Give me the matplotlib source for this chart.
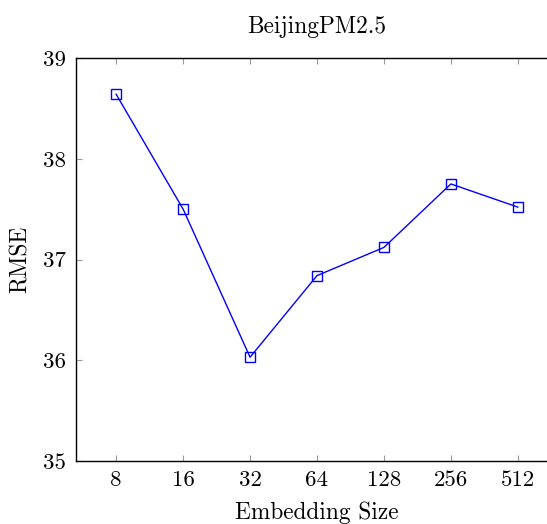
import matplotlib
matplotlib.use("Agg")
import matplotlib.pyplot as plt

plt.rcParams['font.family'] = ['cmr10', 'DejaVu Serif']
plt.rcParams['axes.formatter.use_mathtext'] = True
plt.rcParams['mathtext.fontset'] = 'cm'

sizes = ["8", "16", "32", "64", "128", "256", "512"]
rmse = [38.64, 37.50, 36.03, 36.84, 37.12, 37.75, 37.52]
yticks = [35, 36, 37, 38, 39]

W, H = 547, 524
fig = plt.figure(figsize=(W/100, H/100), dpi=100)
left, right, top, bottom = 76, 558, 58, 461
ax = fig.add_axes([left/W, 1-bottom/H, (right-left)/W, (bottom-top)/H])

x = list(range(len(sizes)))
ax.plot(x, rmse, color='blue', lw=1.0, marker='s', markersize=7.2,
        markerfacecolor='none', markeredgecolor='blue', markeredgewidth=1.0)

ax.set_xlim(-0.6, 6.6)
ax.set_ylim(35, 39)
ax.set_xticks(x)
ax.set_xticklabels(sizes)
ax.set_yticks(yticks)
ax.set_yticklabels([str(v) for v in yticks])
ax.tick_params(direction='in', length=4, color='#999999', width=0.8,
               top=True, right=True, labelsize=16.5, pad=7)
for s in ax.spines.values():
    s.set_linewidth(1.0)

ax.set_xlabel("Embedding Size", fontsize=16.8, labelpad=8)
ax.set_ylabel("RMSE", fontsize=16.8, labelpad=8)
ax.set_title("BeijingPM2.5", fontsize=16.8, pad=18)

fig.savefig("out.png", dpi=100)
